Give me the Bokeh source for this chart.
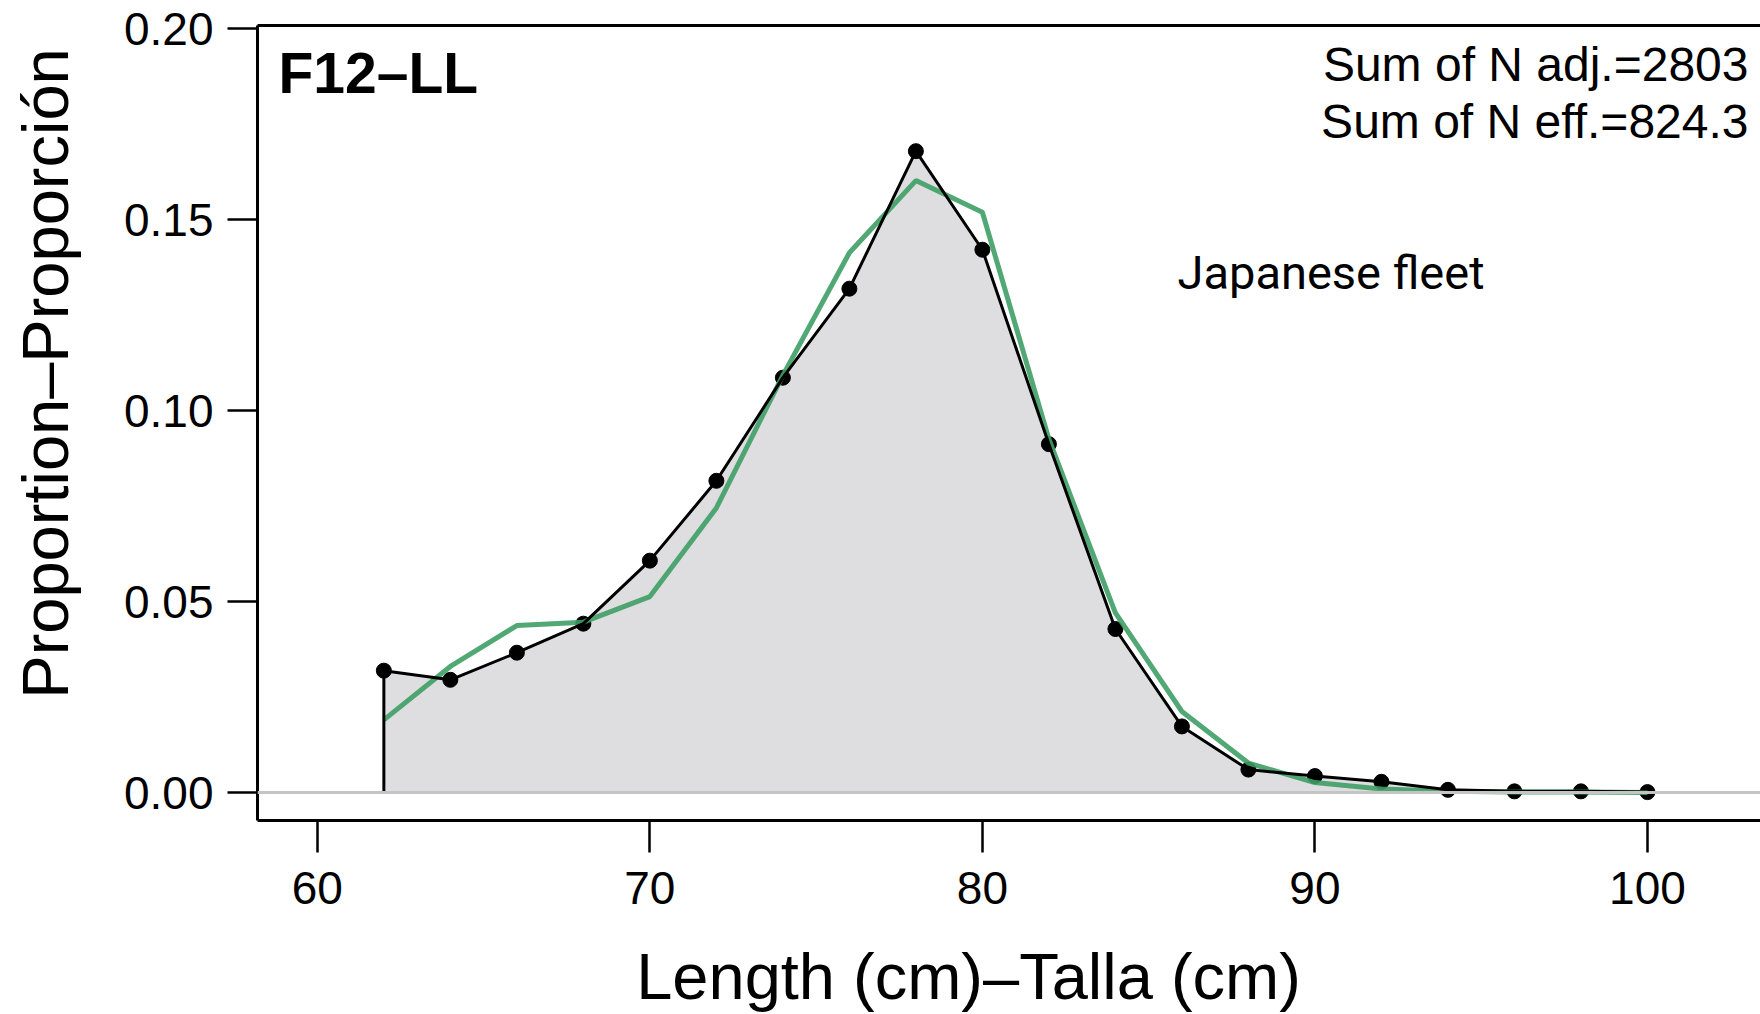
import math
from bokeh.plotting import figure
from bokeh.models import Range1d, FixedTicker, LinearAxis, Label, Span
from bokeh.embed import file_html
from bokeh.resources import INLINE

# ---- data ----
lengths = [62, 64, 66, 68, 70, 72, 74, 76, 78, 80, 82, 84, 86, 88, 90, 92, 94, 96, 98, 100]
observed = [0.0319, 0.0295, 0.0366, 0.0442, 0.0607, 0.0816, 0.1086, 0.1319, 0.1679, 0.1421,
            0.0912, 0.0428, 0.0173, 0.0060, 0.0043, 0.0028, 0.0007, 0.0003, 0.0003, 0.0001]
expected = [0.0190, 0.0330, 0.0437, 0.0446, 0.0513, 0.0745, 0.1092, 0.1413, 0.1602, 0.1519,
            0.0925, 0.0470, 0.0212, 0.0077, 0.0026, 0.0009, 0.0003, 0.0001, 0.0001, 0.0000]
x_ticks = [60, 70, 80, 90, 100]
y_ticks = [0.0, 0.05, 0.10, 0.15, 0.20]
y_tick_labels = ["0.00", "0.05", "0.10", "0.15", "0.20"]
x_title = "Length (cm)\u2013Talla (cm)"
y_title = "Proportion\u2013Proporci\u00f3n"
panel_title = "F12\u2013LL"
info_lines = ["Sum of N adj.=2803", "Sum of N eff.=824.3"]
fleet_note = "Japanese fleet"

FONT = "Liberation Sans"

# frame geometry (pixels) used to place annotations
X0, X1 = 58.2, 103.4
Y0, Y1 = -0.00733, 0.2008
FL, FR, FT, FB = 257, 1760, 25, 820


def dx(px):
    return X0 + (px - FL) * (X1 - X0) / (FR - FL)


def dy(py):
    return Y0 + (FB - py) * (Y1 - Y0) / (FB - FT)


p = figure(width=1760, height=1014, output_backend="svg", toolbar_location=None,
           x_range=Range1d(X0, X1), y_range=Range1d(Y0, Y1),
           min_border_left=FL, min_border_right=0, min_border_top=FT, min_border_bottom=1014 - FB,
           x_axis_type=None, y_axis_type=None)
p.outline_line_color = None
p.background_fill_color = "white"
p.border_fill_color = "white"
p.xgrid.visible = False
p.ygrid.visible = False

# axes
xaxis = LinearAxis(ticker=FixedTicker(ticks=x_ticks))
yaxis = LinearAxis(ticker=FixedTicker(ticks=y_ticks))
yaxis.major_label_overrides = {t: l for t, l in zip(y_ticks, y_tick_labels)}
for ax in (xaxis, yaxis):
    ax.axis_line_color = "black"
    ax.axis_line_width = 3
    ax.major_tick_line_color = "black"
    ax.major_tick_line_width = 2.5
    ax.major_tick_in = 0
    ax.minor_tick_line_color = None
    ax.major_label_text_font = FONT
    ax.major_label_text_font_size = "46px"
    ax.major_label_text_color = "black"
xaxis.major_tick_out = 32
xaxis.major_label_standoff = 19
yaxis.major_tick_out = 30
yaxis.major_label_standoff = 14
p.add_layout(xaxis, "below")
p.add_layout(yaxis, "left")

top = LinearAxis(ticker=FixedTicker(ticks=[]))
top.axis_line_color = "black"
top.axis_line_width = 3
top.major_tick_line_color = None
top.minor_tick_line_color = None
p.add_layout(top, "above")

# axis titles: labels in the side panels (not clipped to the frame)
p.add_layout(Label(x=dx(968), y=dy(976), text=x_title, text_font=FONT,
                   text_font_size="65px", text_color="black",
                   text_baseline="middle", text_align="center"), "below")
p.add_layout(Label(x=dx(45), y=dy(373), text=y_title, text_font=FONT,
                   text_font_size="65px", text_color="black", angle=math.pi / 2,
                   text_baseline="middle", text_align="center"), "left")

# zero reference line
p.add_layout(Span(location=0, dimension="width", line_color="#c4c4c4", line_width=3))

# shaded observed area
p.varea(x=lengths, y1=[0] * len(lengths), y2=observed, fill_color="#dedee0")
p.scatter(lengths, observed, size=15, color="black")

# expected line (under the observed outline, over the points)
p.line(lengths, expected, line_color="#3f9f66", line_width=5, line_alpha=0.9)

outline_x = [lengths[0]] + lengths + [lengths[-1], lengths[0]]
outline_y = [0] + observed + [0, 0]
p.line(outline_x, outline_y, line_color="black", line_width=3)

# in-panel texts
p.add_layout(Label(x=dx(278), y=dy(72), text=panel_title, text_font=FONT,
                   text_font_size="57px", text_font_style="bold", text_color="black",
                   text_baseline="middle", text_align="left"))
p.add_layout(Label(x=dx(1748), y=dy(64), text=info_lines[0], text_font=FONT,
                   text_font_size="48px", text_color="black",
                   text_baseline="middle", text_align="right"))
p.add_layout(Label(x=dx(1748), y=dy(121), text=info_lines[1], text_font=FONT,
                   text_font_size="48px", text_color="black",
                   text_baseline="middle", text_align="right"))
p.add_layout(Label(x=dx(1177), y=dy(272), text=fleet_note, text_font="Roboto",
                   text_font_size="47px", text_color="black",
                   text_baseline="middle", text_align="left"))

open("out.html", "w").write(file_html(p, INLINE))
